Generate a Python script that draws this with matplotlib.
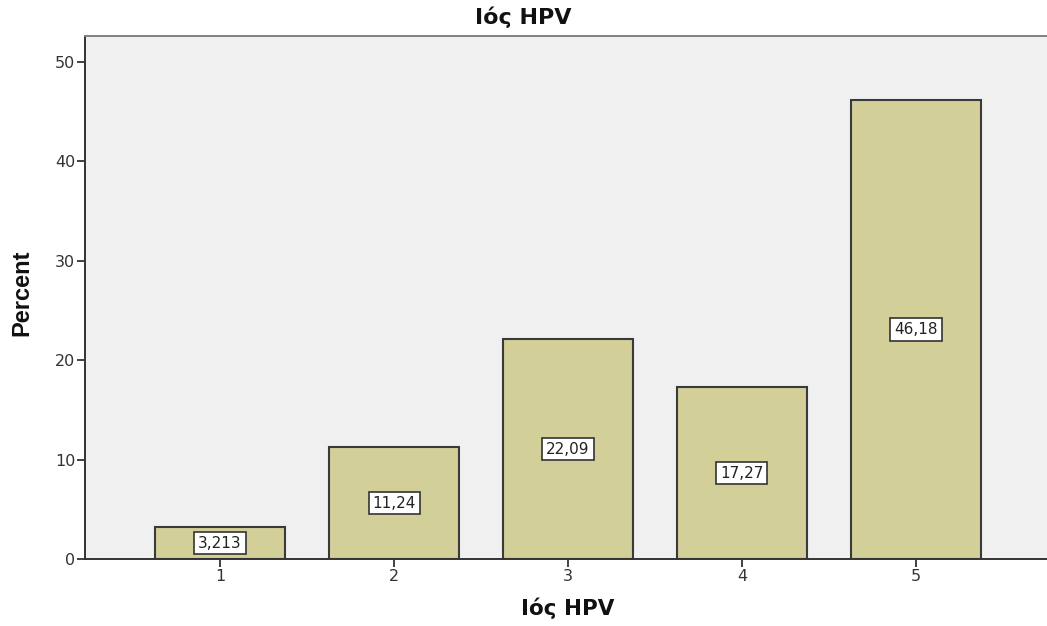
import matplotlib.pyplot as plt
from matplotlib import font_manager

categories = ['1', '2', '3', '4', '5']
percent = [3.213, 11.24, 22.09, 17.27, 46.18]
value_labels = ['3,213', '11,24', '22,09', '17,27', '46,18']
yticks = [0, 10, 20, 30, 40, 50]

BAR_COLOR = '#d3cf98'
EDGE_COLOR = '#3a3a3a'
BG_COLOR = '#f0f0f0'

names = {f.name for f in font_manager.fontManager.ttflist}
NARROW = 'Liberation Sans Narrow' if 'Liberation Sans Narrow' in names else 'Liberation Sans'

fig = plt.figure(figsize=(10.47, 6.26), dpi=100)
ax = fig.add_axes([85 / 1047, 67 / 626, 966 / 1047, 523 / 626])
ax.set_facecolor(BG_COLOR)

x = list(range(1, len(categories) + 1))
ax.bar(x, percent, width=0.747, color=BAR_COLOR, edgecolor=EDGE_COLOR, linewidth=1.5, zorder=2)

for xi, v, lab in zip(x, percent, value_labels):
    ax.text(xi, v / 2, lab, ha='center', va='center', fontsize=11, color='#222222',
            family='DejaVu Sans', zorder=3,
            bbox=dict(boxstyle='square,pad=0.25', facecolor='white', edgecolor='#333333', linewidth=1.2))

ax.set_xlim(1 - 0.776, 5 + 0.776)
ax.set_ylim(0, 52.6)
ax.set_xticks(x)
ax.set_xticklabels(categories)
ax.set_yticks(yticks)
ax.tick_params(axis='both', direction='out', length=6, width=1.3, color='#333333',
               labelsize=11.5, labelcolor='#333333', pad=1)
for t in ax.get_xticklabels() + ax.get_yticklabels():
    t.set_family('DejaVu Sans')

ax.spines['left'].set_color('#333333')
ax.spines['left'].set_linewidth(1.4)
ax.spines['bottom'].set_color('#333333')
ax.spines['bottom'].set_linewidth(1.4)
ax.spines['top'].set_color('#808080')
ax.spines['top'].set_linewidth(1.4)
ax.spines['right'].set_visible(False)

ax.set_ylabel('Percent', family=NARROW, fontweight='bold', fontsize=17, color='#111111')
ax.yaxis.set_label_coords(-52 / 966, 0.5 + 5 / 523)
ax.set_xlabel('Ιός HPV', family='DejaVu Sans', fontweight='bold', fontsize=15.5, labelpad=10, color='#111111')
fig.text(0.5, 1 - 17 / 626, 'Ιός HPV', ha='center', va='center', family='DejaVu Sans',
         fontweight='bold', fontsize=16, color='#111111')

fig.savefig('out.png', dpi=100)
